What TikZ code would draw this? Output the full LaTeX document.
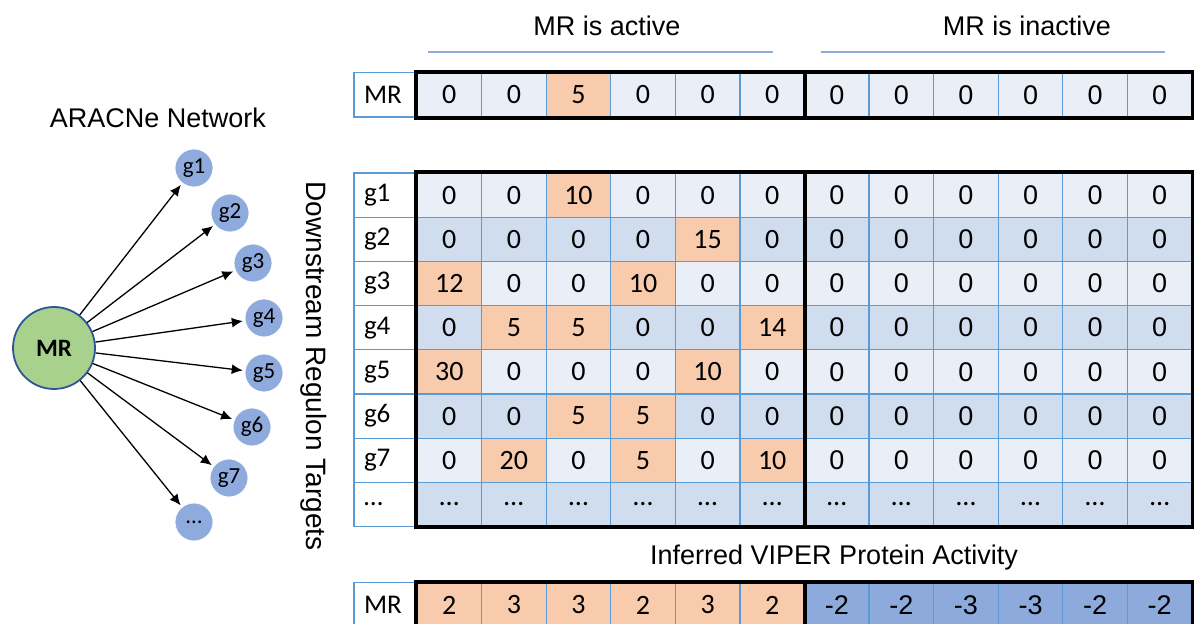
\documentclass[tikz,border=0pt]{standalone}
\usepackage{fontspec}
\setmainfont{Carlito}
\newfontfamily\arialfont{Liberation Sans}
\usepackage{tikz}
\usetikzlibrary{arrows.meta,positioning}
\definecolor{cellblue}{HTML}{5B9BD5}
\definecolor{rowlight}{HTML}{EAEFF7}
\definecolor{rowdark}{HTML}{D0DDEE}
\definecolor{upcell}{HTML}{F8CBAD}
\definecolor{downcell}{HTML}{8EA9DB}
\definecolor{genefill}{HTML}{8FAADC}
\definecolor{mrfill}{HTML}{A9D18E}
\definecolor{mrline}{HTML}{2F5597}

\begin{document}
\begin{tikzpicture}[x=0.5pt,y=-0.5pt,shorten >=1pt,>={Latex[length=5.5pt,width=5pt]},
   gene/.style={circle,fill=genefill,draw=white,minimum size=19pt,inner sep=0pt,font=\fontsize{11.5}{13}\selectfont},
   hub/.style={circle,fill=mrfill,draw=mrline,line width=0.9pt,minimum size=41pt,inner sep=0pt,font=\bfseries\fontsize{12.5}{14}\selectfont},
   cell/.style={draw=cellblue,line width=0.6pt,minimum width=32.29pt,minimum height=22.1pt,inner sep=0pt,font=\cellfont},
   rowname/.style={draw=cellblue,line width=0.6pt,fill=white,minimum height=22.1pt,text width=21.5pt,inner xsep=5pt,inner ysep=0pt,align=left,font=\fontsize{13.5}{15}\selectfont},
   heading/.style={font=\arialfont\fontsize{13.5}{16}\selectfont},
   hline/.style={draw=genefill,line width=0.6pt},
   frame/.style={line width=2pt}]
   \clip (0,0) rectangle (1194,624);

   % network
   \node[heading] (nettitle) at (158,118) {ARACNe Network};
   \node[hub] (mr) at (54,348) {MR};
   \node[gene] (g1) at (194,168) {g1};
   \node[gene] (g2) at (230,213) {g2};
   \node[gene] (g3) at (253,263) {g3};
   \node[gene] (g4) at (264,318) {g4};
   \node[gene] (g5) at (264,373) {g5};
   \node[gene] (g6) at (252,427) {g6};
   \node[gene] (g7) at (229,478) {g7};
   \node[gene] (gd) at (194,522) {\ldots};
   \path[->,line width=0.65pt]
   (mr) edge (g1) edge (g2) edge (g3) edge (g4)
        edge (g5) edge (g6) edge (g7) edge (gd);

   % headings
   \node[heading] (hact) at (607,26) {MR is active};
   \node[heading] (hinact) at (1027,26) {MR is inactive};
   \draw[hline] (428,52) -- (775,52);
   \draw[hline] (821,52) -- (1167,52);
   \node[heading,rotate=-90,font=\arialfont\fontsize{14}{16}\selectfont] (ylab) at (314,366) {Downstream Regulon Targets};
   \node[heading] (hviper) at (834,558) {Inferred VIPER Protein Activity};

   % MR row
   \node[rowname] (lm) at (385.5,95) {MR};
   \foreach \v [count=\c] in {0,0,5,0,0,0,0,0,0,0,0,0} {
     \ifnum\c>6 \def\cellfont{\arialfont\fontsize{13.5}{15}\selectfont}\else\def\cellfont{\fontsize{14}{15}\selectfont}\fi
     \ifnum\v=0 \def\cellc{rowlight}\else\def\cellc{upcell}\fi
     \node[cell,fill=\cellc] (m\c) at ({417+(\c-0.5)*64.58},95) {\v};
   }
   \draw[frame] (m1.north west) rectangle (m12.south east);
   \draw[frame] (m6.north east) -- (m6.south east);

   % regulon targets
   \foreach \vals [count=\r] in {{0,0,10,0,0,0},{0,0,0,0,15,0},{12,0,0,10,0,0},{0,5,5,0,0,14},
                                 {30,0,0,0,10,0},{0,0,5,5,0,0},{0,20,0,5,0,10}} {
     \ifodd\r \def\rowc{rowlight}\else\def\rowc{rowdark}\fi
     \node[rowname] (l\r) at (385.5,{173+(\r-0.5)*44.2}) {g\r};
     \def\cellfont{\fontsize{14}{15}\selectfont}
     \foreach \v [count=\c] in \vals {
       \ifnum\v=0 \def\cellc{\rowc}\else\def\cellc{upcell}\fi
       \node[cell,fill=\cellc] (t\r-\c) at ({417+(\c-0.5)*64.58},{173+(\r-0.5)*44.2}) {\v};
     }
     \def\cellfont{\arialfont\fontsize{13.5}{15}\selectfont}
     \foreach \c in {7,...,12}
       \node[cell,fill=\rowc] (t\r-\c) at ({417+(\c-0.5)*64.58},{173+(\r-0.5)*44.2}) {0};
   }
   \node[rowname] (l8) at (385.5,{173+7.5*44.2}) {\ldots};
   \def\cellfont{\fontsize{14}{15}\selectfont}
   \foreach \c in {1,...,12}
     \node[cell,fill=rowdark] (t8-\c) at ({417+(\c-0.5)*64.58},{173+7.5*44.2}) {\ldots};
   \draw[frame] (t1-1.north west) rectangle (t8-12.south east);
   \draw[frame] (t1-6.north east) -- (t8-6.south east);

   % VIPER row
   \node[rowname] (lv) at (385.5,605) {MR};
   \foreach \v [count=\c] in {2,3,3,2,3,2,-2,-2,-3,-3,-2,-2} {
     \ifnum\c>6 \def\cellfont{\arialfont\fontsize{13.5}{15}\selectfont}\def\cellc{downcell}\else\def\cellfont{\fontsize{14}{15}\selectfont}\def\cellc{upcell}\fi
     \node[cell,fill=\cellc] (v\c) at ({417+(\c-0.5)*64.58},605) {\v};
   }
   \draw[frame] (v1.north west) rectangle (v12.south east);
   \draw[frame] (v6.north east) -- (v6.south east);
\end{tikzpicture}
\end{document}
